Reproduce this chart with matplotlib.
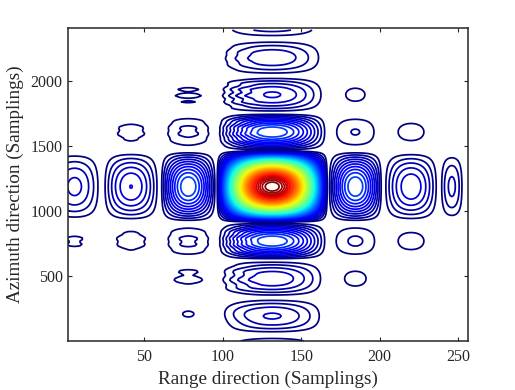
import matplotlib
matplotlib.use("Agg")
import matplotlib.pyplot as plt
import numpy as np

plt.rcParams['font.family'] = ['Liberation Serif', 'DejaVu Serif']

# zero crossings of the response
range_nulls = [-12, 23, 60, 96, 167, 202, 238, 254, 290]
azimuth_nulls = [-230, 50, 335, 625, 912, 1462, 1750, 2035, 2320, 2600]

# peak height of each lobe, rows = azimuth lobes (bottom to top), cols = range lobes
peaks = np.array([
    [0.003, 0.004, 0.008, 0.060, 0.008, 0.004, 0.003, 0.002],
    [0.005, 0.008, 0.0195, 0.081, 0.012, 0.007, 0.004, 0.002],
    [0.008, 0.015, 0.0245, 0.095, 0.024, 0.012, 0.006, 0.003],
    [0.0215, 0.027, 0.044, 0.215, 0.043, 0.026, 0.015, 0.005],
    [0.085, 0.118, 0.215, 1.000, 0.215, 0.115, 0.065, 0.025],
    [0.015, 0.0255, 0.045, 0.215, 0.0405, 0.026, 0.015, 0.005],
    [0.008, 0.015, 0.0225, 0.101, 0.023, 0.012, 0.006, 0.003],
    [0.005, 0.008, 0.015, 0.075, 0.012, 0.007, 0.004, 0.002],
    [0.003, 0.004, 0.008, 0.065, 0.008, 0.004, 0.003, 0.002],
])

# small ripple seen along azimuth on the left side of the response
ripple_crest = [-100, 230, 470, 790, 1185, 1590, 1885, 2170, 2440]
ripple_period = [52, 190, 70, 52, 52, 52, 51, 52, 52]
ripple_amp = [0.0, 0.1, 0.14, 0.05, 0.0, 0.05, 0.16, 0.05, 0.0]

x_ticks = [50, 100, 150, 200, 250]
y_ticks = [500, 1000, 1500, 2000]
n_levels = 50


def lobe(t, nulls):
    # half sine arch between two nulls, one arch per lobe
    nulls = np.array(nulls)
    idx = np.clip(np.searchsorted(nulls, t) - 1, 0, len(nulls) - 2)
    u = (t - nulls[idx]) / (nulls[idx + 1] - nulls[idx])
    return idx, np.sin(np.pi * np.clip(u, 0, 1))


x = np.arange(1, 257)
y = np.arange(1, 2401, 12)
ix, ax_ = lobe(x, range_nulls)
iy, ay_ = lobe(y, azimuth_nulls)
X_i, Y_i = np.meshgrid(ix, iy)
Z = peaks[Y_i, X_i] * np.outer(ay_, ax_)

crest = np.array(ripple_crest)[iy]
period = np.array(ripple_period)[iy]
amp = np.array(ripple_amp)[iy]
wave = amp * np.cos(2 * np.pi * (y - crest) / period)
fade = np.clip((125 - x) / 20, 0, 1)
Z = Z * (1 + np.outer(wave, fade))

fig = plt.figure(figsize=(5.15, 3.9), dpi=100)
ax = fig.add_axes([67.5/515, 1-341/390, 400/515, 313/390])
levels = np.linspace(0, 1, n_levels + 2)[1:-1]
ax.contour(x, y, Z, levels=levels, cmap='jet', linewidths=1.25)

ax.set_xlim(1, 256)
ax.set_ylim(1, 2405)
ax.set_xticks(x_ticks)
ax.set_yticks(y_ticks)
ax.tick_params(direction='in', top=True, right=True, length=3, width=0.8,
               labelsize=11.5, color='#262626', labelcolor='#262626')
ax.tick_params(axis='x', pad=6)
ax.tick_params(axis='y', pad=3.5)
for s in ax.spines.values():
    s.set_linewidth(1.1)
    s.set_color('#262626')
ax.set_xlabel('Range direction (Samplings)', fontsize=13.8, color='#262626', labelpad=4)
ax.set_ylabel('Azimuth direction (Samplings)', fontsize=13.8, color='#262626', labelpad=4.5)

fig.savefig('out.png', dpi=100)
